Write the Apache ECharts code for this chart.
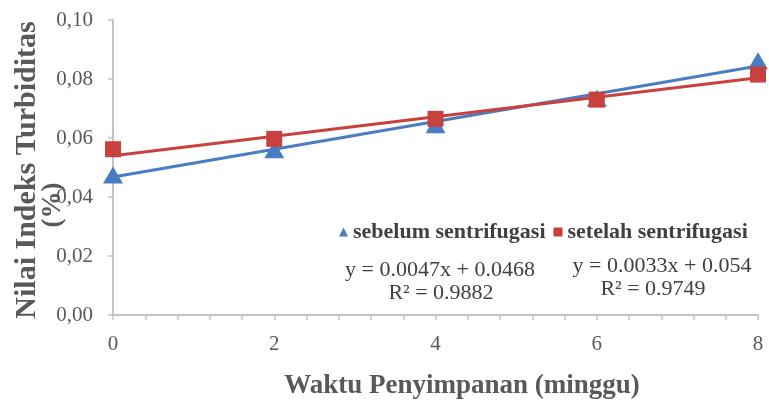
<!DOCTYPE html>
<html><head><meta charset="utf-8">
<script src="https://cdn.jsdelivr.net/npm/echarts@6/dist/echarts.min.js"></script>
<style>html,body{margin:0;padding:0;background:#fff}#c{width:769px;height:407px}</style>
</head><body><div id="c"></div>
<script>
var weeks = [0, 2, 4, 6, 8];
var sebelum = [0.0475, 0.0560, 0.0645, 0.0735, 0.0862];
var setelah = [0.0562, 0.0597, 0.0665, 0.0730, 0.0815];
var trendX = [0, 8];
var trendSebelum = [0.0468, 0.0844];
var trendSetelah = [0.0540, 0.0804];
var yTicks = ['0,00', '0,02', '0,04', '0,06', '0,08', '0,10'];
var eqSebelum = ['y = 0.0047x + 0.0468', 'R² = 0.9882'];
var eqSetelah = ['y = 0.0033x + 0.054', 'R² = 0.9749'];
var xTitle = 'Waktu Penyimpanan (minggu)';
var yTitle = ['Nilai Indeks Turbiditas', '(%)'];

function pairs(xs, ys){ return xs.map(function(x,i){ return [x, ys[i]]; }); }
var blue = '#4a7cc4', red = '#c9413f';
var serif = '"Liberation Serif","DejaVu Serif",serif';
var axisGray = '#c3c3c3', labelGray = '#595959', textDark = '#404040';
var chart = echarts.init(document.getElementById('c'));
chart.setOption({
  animation: false,
  grid: { left: 113, right: 11, top: 20, bottom: 92, containLabel: false, outerBoundsMode: 'none' },
  xAxis: {
    type: 'value', min: 0, max: 8, interval: 2,
    axisLine: { lineStyle: { color: axisGray, width: 2 } },
    axisTick: { show: true, length: 5, lineStyle: { color: axisGray, width: 1.5 } },
    minorTick: { show: true, splitNumber: 5, length: 5, lineStyle: { color: axisGray, width: 1.5 } },
    splitLine: { show: false },
    axisLabel: { color: labelGray, fontFamily: serif, fontSize: 21, margin: 19 }
  },
  yAxis: {
    type: 'value', min: 0, max: 0.1, interval: 0.02,
    axisLine: { show: true, lineStyle: { color: axisGray, width: 2 } },
    axisTick: { show: true, length: 5, lineStyle: { color: axisGray, width: 1.5 } },
    splitLine: { show: false },
    axisLabel: { color: labelGray, fontFamily: serif, fontSize: 21, margin: 20,
      formatter: function(v){ return yTicks[Math.round(v/0.02)]; } }
  },
  legend: {
    data: ['sebelum sentrifugasi', 'setelah sentrifugasi'],
    left: 339, top: 221, padding: 0, itemGap: 8, itemWidth: 9, itemHeight: 9,
    textStyle: { color: textDark, fontFamily: serif, fontSize: 22, fontWeight: 'bold' }
  },
  series: [
    { name: 'trend sebelum', type: 'line', data: pairs(trendX, trendSebelum), symbol: 'none',
      lineStyle: { color: blue, width: 3 }, z: 2 },
    { name: 'trend setelah', type: 'line', data: pairs(trendX, trendSetelah), symbol: 'none',
      lineStyle: { color: red, width: 3 }, z: 2 },
    { name: 'sebelum sentrifugasi', type: 'scatter', data: pairs(weeks, sebelum), symbol: 'triangle',
      symbolSize: [20, 17], itemStyle: { color: blue, opacity: 1 }, z: 3 },
    { name: 'setelah sentrifugasi', type: 'scatter', data: pairs(weeks, setelah), symbol: 'rect',
      symbolSize: 16, itemStyle: { color: red, opacity: 1 }, z: 4 }
  ],
  graphic: [
    { type: 'text', x: 440, y: 270, style: { text: eqSebelum[0], font: '22px ' + serif, fill: textDark, textAlign: 'center', textVerticalAlign: 'middle' } },
    { type: 'text', x: 441, y: 293, style: { text: eqSebelum[1], font: '22px ' + serif, fill: textDark, textAlign: 'center', textVerticalAlign: 'middle' } },
    { type: 'text', x: 662, y: 266, style: { text: eqSetelah[0], font: '22px ' + serif, fill: textDark, textAlign: 'center', textVerticalAlign: 'middle' } },
    { type: 'text', x: 653, y: 289, style: { text: eqSetelah[1], font: '22px ' + serif, fill: textDark, textAlign: 'center', textVerticalAlign: 'middle' } },
    { type: 'text', x: 462, y: 386, style: { text: xTitle, font: 'bold 27px ' + serif, fill: labelGray, textAlign: 'center', textVerticalAlign: 'middle' } },
    { type: 'text', x: 27, y: 170, rotation: Math.PI / 2, style: { text: yTitle[0], font: 'bold 30px ' + serif, fill: labelGray, textAlign: 'center', textVerticalAlign: 'middle' } },
    { type: 'text', x: 53, y: 205, rotation: Math.PI / 2, style: { text: yTitle[1], font: 'bold 27px ' + serif, fill: labelGray, textAlign: 'center', textVerticalAlign: 'middle' } }
  ]
});
</script></body></html>
